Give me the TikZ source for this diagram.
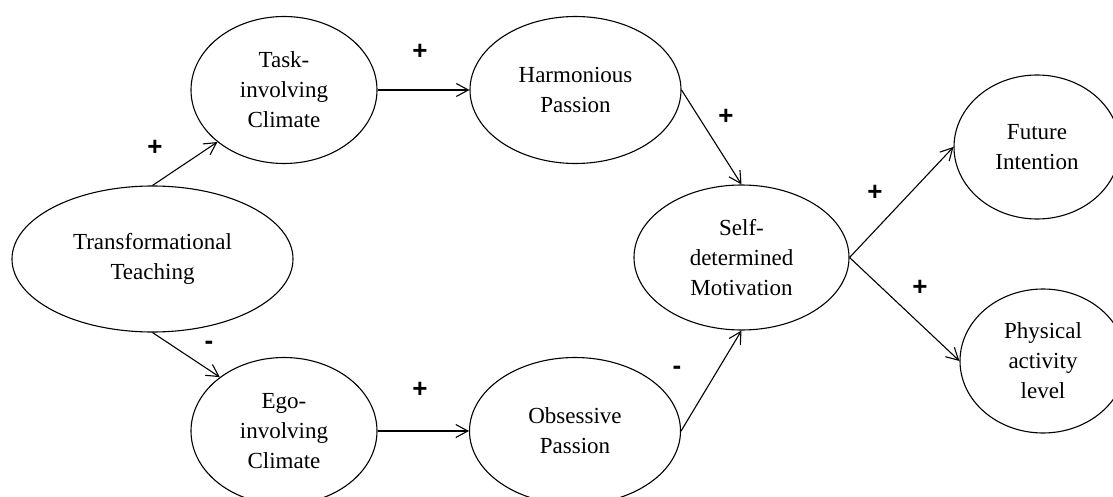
\documentclass[tikz,border=0pt]{standalone}
\usepackage{fontspec}
\setmainfont{Liberation Serif}
\newfontfamily\lblfont{Liberation Sans}
\usetikzlibrary{arrows.meta,shapes.geometric}
\begin{document}
\begin{tikzpicture}[x=1pt,y=-1pt,
  ell/.style={draw, ellipse, line width=1.1pt, inner sep=0pt, align=center,
    font=\fontsize{23}{30}\selectfont},
  arr/.style={line width=1.1pt, -{Straight Barb[length=12pt,width=13pt]}},
  sign/.style={font=\lblfont\bfseries\fontsize{26}{26}\selectfont, inner sep=0pt}]
\useasboundingbox (0,0) rectangle (1113,497);
\clip (0,0) rectangle (1113,497);
\node[ell, minimum width=186pt, minimum height=147pt] (task) at (284,90) {Task-\\involving\\Climate};
\node[ell, minimum width=211pt, minimum height=147pt] (harm) at (575.5,90) {Harmonious\\Passion};
\node[ell, minimum width=281pt, minimum height=146pt] (trans) at (152.5,259) {Transformational\\Teaching};
\node[ell, minimum width=186pt, minimum height=147pt] (ego) at (284,431) {Ego-\\involving\\Climate};
\node[ell, minimum width=211pt, minimum height=147pt] (obs) at (575,431) {Obsessive\\Passion};
\node[ell, minimum width=215pt, minimum height=145pt] (self) at (741.5,257.5) {Self-\\determined\\Motivation};
\node[ell, minimum width=166pt, minimum height=144pt] (fut) at (1037,147) {Future\\Intention};
\node[ell, minimum width=166pt, minimum height=144pt] (phys) at (1043,361) {Physical\\activity\\level};
\draw[arr] (trans.north) -- (task.218);
\draw[arr] (task.east) -- (harm.west);
\draw[arr] (harm.east) -- (self.north);
\draw[arr] (trans.south) -- (ego.140);
\draw[arr] (ego.east) -- (obs.west);
\draw[arr] (obs.east) -- (self.south);
\draw[arr] (self.east) -- (fut.west);
\draw[arr] (self.east) -- (phys.west);
\node[sign] (s1) at (155,148) {+};
\node[sign] (s2) at (420,52) {+};
\node[sign] (s3) at (726,117) {+};
\node[sign] (s4) at (875,193) {+};
\node[sign] (s5) at (920,288) {+};
\node[sign] (s6) at (209,345) {-};
\node[sign] (s7) at (420,390) {+};
\node[sign] (s8) at (677,370) {-};
\end{tikzpicture}
\end{document}
